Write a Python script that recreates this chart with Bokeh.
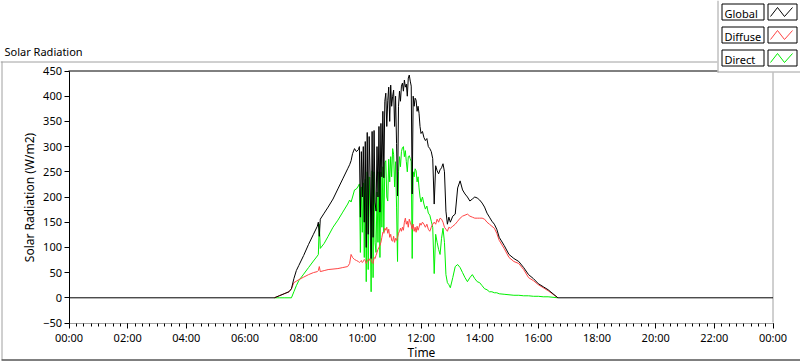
import pandas as pd
from bokeh.plotting import figure
from bokeh.models import Range1d, FixedTicker, DatetimeTickFormatter, GlobalInlineStyleSheet
from bokeh.core.properties import value
from bokeh.embed import file_html
from bokeh.resources import INLINE

# ---------------- data ----------------
times = [
    "07:00", "07:10", "07:20", "07:30", "07:35", "07:40", "07:45", "07:50", "08:00", "08:10",
    "08:20", "08:28", "08:30", "08:32", "08:34", "08:42", "08:50", "09:00", "09:10", "09:20",
    "09:30", "09:34", "09:37", "09:40", "09:44", "09:48", "09:52",
    "09:54", "09:56", "09:58", "10:00", "10:02", "10:04", "10:06", "10:08",
    "10:10", "10:12", "10:14", "10:16", "10:18", "10:20", "10:22", "10:24",
    "10:26", "10:28", "10:30", "10:32", "10:34", "10:36", "10:38", "10:40",
    "10:42", "10:44", "10:46", "10:48", "10:50", "10:52", "10:54", "10:56",
    "10:58", "11:00", "11:02", "11:04", "11:06", "11:08", "11:10", "11:12",
    "11:14", "11:16", "11:18", "11:20", "11:22", "11:24", "11:26", "11:28",
    "11:30", "11:32", "11:34", "11:36", "11:38", "11:40", "11:42", "11:44",
    "11:46", "11:48", "11:50", "11:52", "11:54", "11:56", "11:58", "12:00",
    "12:03", "12:06", "12:09", "12:12", "12:15", "12:18", "12:21", "12:24", "12:27", "12:30",
    "12:33", "12:36", "12:39", "12:42", "12:45", "12:48", "12:51", "12:54", "12:57", "13:00",
    "13:05", "13:10", "13:15", "13:20", "13:25", "13:30", "13:35", "13:40", "13:45", "13:50",
    "13:55", "14:00", "14:05", "14:10", "14:15", "14:20", "14:25", "14:30", "14:35", "14:40",
    "14:50", "15:00", "15:10", "15:20", "15:30", "15:40", "15:50", "16:00", "16:10", "16:20",
    "16:30", "16:40",
]

global_wm2 = [
    0, 4, 8, 12, 18, 38, 54, 64, 84, 106,
    126, 142, 150, 122, 156, 168, 180, 196, 216, 236,
    256, 264, 272, 286, 296, 290, 294,
    300, 160, 290, 200, 300, 150, 310, 100,
    328, 126, 320, 240, 78, 330, 120, 332,
    190, 172, 300, 200, 340, 170, 346, 240,
    370, 238, 390, 406, 340, 392, 418, 350,
    422, 380, 400, 412, 340, 400, 306, 202,
    380, 410, 390, 420, 426, 410, 432, 418,
    424, 400, 436, 442, 430, 420, 206, 400,
    380, 396, 392, 370, 380, 366, 340, 326,
    330, 318, 312, 316, 300, 296, 290, 276, 186, 262,
    252, 246, 254, 258, 266, 250, 172, 146, 160, 150,
    162, 166, 218, 232, 214, 206, 200, 192, 196, 200,
    198, 194, 188, 180, 168, 160, 152, 146, 136, 120,
    104, 86, 78, 72, 60, 46, 38, 28, 22, 16,
    8, 0,
]

diffuse_wm2 = [
    0, 4, 8, 12, 18, 30, 33, 36, 41, 46,
    50, 52, 54, 62, 52, 54, 56, 57, 58, 60,
    62, 68, 86, 80, 76, 74, 72,
    70, 72, 74, 70, 72, 76, 74, 68,
    72, 76, 74, 78, 76, 70, 68, 80,
    78, 84, 90, 96, 100, 104, 110, 120,
    130, 128, 138, 134, 140, 128, 136, 120,
    126, 114, 112, 122, 110, 118, 114, 120,
    128, 132, 138, 132, 140, 134, 150, 158,
    146, 152, 140, 156, 150, 144, 136, 146,
    132, 140, 130, 142, 134, 140, 148, 144,
    150, 146, 140, 146, 136, 132, 140, 146, 150, 146,
    156, 150, 158, 156, 150, 140, 136, 132, 140, 138,
    142, 146, 152, 158, 162, 164, 166, 162, 160, 158,
    158, 158, 158, 156, 150, 146, 142, 138, 128, 114,
    98, 80, 72, 68, 56, 40, 34, 26, 20, 14,
    7, 0,
]

direct_wm2 = [
    0, 0, 0, 0, 0, 12, 24, 34, 47, 60,
    73, 83, 86, 146, 98, 108, 122, 140, 154, 170,
    186, 194, 190, 200, 214, 216, 222,
    226, 90, 220, 130, 228, 80, 235, 32,
    250, 56, 240, 160, 12, 252, 40, 250,
    110, 90, 210, 110, 250, 80, 250, 140,
    260, 130, 268, 272, 200, 192, 275, 230,
    280, 240, 296, 285, 220, 270, 180, 72,
    250, 280, 260, 290, 298, 300, 280, 292,
    270, 250, 280, 282, 276, 270, 78, 250,
    240, 256, 252, 230, 240, 218, 200, 190,
    200, 186, 176, 182, 168, 164, 152, 140, 48, 126,
    110, 96, 86, 118, 138, 110, 46, 30, 26, 20,
    40, 62, 66, 60, 50, 40, 32, 40, 46, 38,
    32, 30, 24, 18, 16, 12, 12, 10, 10, 8,
    7, 6, 5, 5, 4, 4, 3, 3, 2, 2,
    1, 0,
]

# Global is recorded as zero over the whole night as well
night_start = "00:00"
night_end = "24:00"

x_tick_labels_hours = ["00:00", "02:00", "04:00", "06:00", "08:00", "10:00", "12:00",
                       "14:00", "16:00", "18:00", "20:00", "22:00", "24:00"]
y_ticks = [-50, 0, 50, 100, 150, 200, 250, 300, 350, 400, 450]
series_names = ["Global", "Diffuse", "Direct"]
series_colors = ["#000000", "#ff4444", "#00f000"]

title_text = "Solar Radiation"
x_title = "Time"
y_title = "Solar Radiation (W/m2)"

# ---------------- helpers ----------------
DAY = pd.Timestamp("2000-01-01")


def to_dt(s):
    h, m = s.split(":")
    return DAY + pd.Timedelta(hours=int(h), minutes=int(m))


def to_ms(ts):
    return ts.value / 1e6


x = [to_dt(s) for s in times]
x_global = [to_dt(night_start)] + x + [to_dt(night_end)]
y_global = [0] + global_wm2 + [0]

major_ms = [to_ms(to_dt(s)) for s in x_tick_labels_hours]
minor_ms = [major_ms[0] + i * 15 * 60 * 1000 for i in range(24 * 4 + 1)]

# ---------------- canvas geometry (whole canvas = frame) ----------------
W, H = 800, 361
PLOT_L, PLOT_R = 68.5, 772.5     # pixel centres of 00:00 and 24:00
PLOT_T, PLOT_B = 70.5, 322.5     # pixel centres of 450 and -50
ms_per_px = (major_ms[-1] - major_ms[0]) / (PLOT_R - PLOT_L)
val_per_px = (y_ticks[-1] - y_ticks[0]) / (PLOT_B - PLOT_T)


def X(px):
    return major_ms[0] + (px - PLOT_L) * ms_per_px


def Y(py):
    return y_ticks[-1] - (py - PLOT_T) * val_per_px


FONT = "Noto Sans"
FS = "11px"
FS_AXIS = "12px"

p = figure(width=W, height=H, x_axis_type="datetime",
           x_range=Range1d(X(0), X(W)), y_range=Range1d(Y(H), Y(0)),
           output_backend="svg", toolbar_location=None,
           min_border=0, background_fill_color="white", border_fill_color="white")
p.stylesheets = [GlobalInlineStyleSheet(css="html,body{margin:0;padding:0;overflow:hidden;}")]
p.grid.visible = False
p.outline_line_color = None

# x axis, drawn at -50
xa = p.xaxis[0]
xa.fixed_location = y_ticks[0]
xa.bounds = (major_ms[0], major_ms[-1])
xa.ticker = FixedTicker(ticks=major_ms, minor_ticks=minor_ms)
fmt = "%H:%M"
xa.formatter = DatetimeTickFormatter(seconds=fmt, minsec=fmt, minutes=fmt, hourmin=fmt,
                                     hours=fmt, days=fmt, months=fmt, years=fmt)
xa.axis_line_color = "#a0a0a0"
xa.major_tick_line_color = "black"
xa.minor_tick_line_color = "black"
xa.major_tick_out = 5
xa.major_tick_in = 0
xa.minor_tick_out = 3
xa.minor_tick_in = 0
xa.major_label_standoff = 2
xa.axis_label = x_title
xa.axis_label_standoff = -5

# y axis, drawn at 00:00
ya = p.yaxis[0]
ya.fixed_location = major_ms[0]
ya.bounds = (y_ticks[0], y_ticks[-1])
ya.ticker = FixedTicker(ticks=y_ticks)
ya.axis_line_color = "black"
ya.major_tick_line_color = "black"
ya.minor_tick_line_color = None
ya.major_tick_out = 5
ya.major_tick_in = 0
ya.major_label_standoff = 2
ya.axis_label = y_title
ya.axis_label_standoff = 3

for ax in (xa, ya):
    ax.major_label_text_font = FONT
    ax.major_label_text_font_size = FS
    ax.major_label_text_color = "black"
    ax.axis_label_text_font = FONT
    ax.axis_label_text_font_size = FS_AXIS
    ax.axis_label_text_font_style = "normal"
    ax.axis_label_text_color = "black"

# ---------------- graph frame decorations ----------------
GREY = "#a0a0a0"
# outer frame of the graph control
p.segment(x0=[X(0), X(1.5), X(1)], y0=[Y(61.5), Y(61), Y(359.5)],
          x1=[X(717), X(1.5), X(W)], y1=[Y(61.5), Y(359), Y(359.5)],
          line_color=[GREY, GREY, "black"], line_width=1)
# plot area border: top black, right grey
p.segment(x0=[X(68), X(772.5)], y0=[Y(70.5), Y(70)],
          x1=[X(773), X(772.5)], y1=[Y(70.5), Y(322)],
          line_color=["black", GREY], line_width=1)

# ---------------- data lines (Direct, Diffuse, then Global on top) ----------------
p.line(x, direct_wm2, line_color=series_colors[2], line_width=1)
p.line(x, diffuse_wm2, line_color=series_colors[1], line_width=1)
p.line(x_global, y_global, line_color=series_colors[0], line_width=1)

# ---------------- title ----------------
p.text(x=[X(4)], y=[Y(50.5)], text=[title_text], text_font=value(FONT),
       text_font_size=value(FS), text_color="black", text_baseline="alphabetic",
       text_align="left")

# ---------------- legend (LabVIEW style) ----------------
p.quad(left=[X(717)], right=[X(W)], top=[Y(0)], bottom=[Y(72)],
       fill_color="white", line_color=None)
p.segment(x0=[X(717.5), X(717)], y0=[Y(0), Y(71.5)], x1=[X(717.5), X(W)], y1=[Y(72), Y(71.5)],
          line_color=GREY, line_width=1)
row_tops = [3, 26, 49]
p.quad(left=[X(721.5)] * 3, right=[X(763.5)] * 3,
       top=[Y(t + 0.5) for t in row_tops], bottom=[Y(t + 16.5) for t in row_tops],
       fill_color="white", line_color="black", line_width=1)
p.quad(left=[X(767.5)] * 3, right=[X(796.5)] * 3,
       top=[Y(t + 0.5) for t in row_tops], bottom=[Y(t + 16.5) for t in row_tops],
       fill_color="white", line_color="black", line_width=1)
p.text(x=[X(724)] * 3, y=[Y(t + 9.5) for t in row_tops], text=series_names,
       text_font=value(FONT), text_font_size=value(FS), text_color="black",
       text_baseline="alphabetic", text_align="left")
for color, t in zip(series_colors, row_tops):
    p.line(x=[X(770), X(777), X(784), X(792)],
           y=[Y(t + 13), Y(t + 4), Y(t + 13), Y(t + 4)],
           line_color=color, line_width=1)

open("out.html", "w").write(file_html(p, INLINE))
